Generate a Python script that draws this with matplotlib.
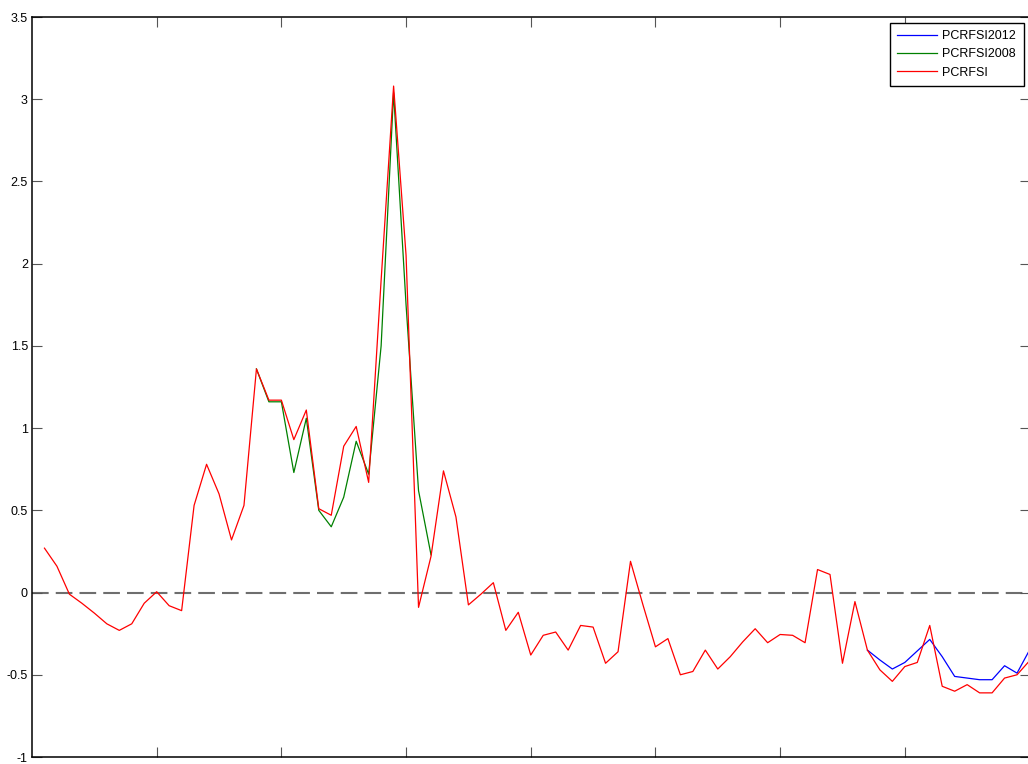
import matplotlib as mpl
import matplotlib.pyplot as plt
import numpy as np

# PCRFSI, full series (quarter index 1..80)
pcrfsi = [0.27, 0.16, -0.01, -0.065, -0.125, -0.19, -0.23, -0.19, -0.065, 0.005,
          -0.08, -0.11, 0.53, 0.78, 0.60, 0.32, 0.53, 1.36, 1.17, 1.17,
          0.93, 1.11, 0.51, 0.47, 0.89, 1.01, 0.67, 1.9, 3.08, 2.05,
          -0.09, 0.22, 0.74, 0.46, -0.075, -0.01, 0.06, -0.23, -0.12, -0.38,
          -0.26, -0.24, -0.35, -0.20, -0.21, -0.43, -0.36, 0.19, -0.075, -0.33,
          -0.28, -0.50, -0.48, -0.35, -0.465, -0.39, -0.30, -0.22, -0.305, -0.255,
          -0.26, -0.305, 0.14, 0.11, -0.43, -0.055, -0.35, -0.47, -0.54, -0.45,
          -0.425, -0.20, -0.57, -0.60, -0.56, -0.61, -0.61, -0.52, -0.50, -0.415]
t_full = np.arange(1, len(pcrfsi) + 1)

# PCRFSI2008, where it departs from the full series
t_2008 = np.arange(18, 33)
pcrfsi2008 = [1.36, 1.16, 1.16, 0.73, 1.06, 0.50, 0.40, 0.58, 0.92, 0.72,
              1.5, 3.04, 1.75, 0.62, 0.23]

# PCRFSI2012, where it departs from the full series
t_2012 = np.arange(67, 81)
pcrfsi2012 = [-0.35, -0.41, -0.465, -0.425, -0.355, -0.285, -0.39, -0.51, -0.52, -0.53,
              -0.53, -0.445, -0.49, -0.35]

yticks = np.arange(-1, 3.51, 0.5)
ytick_labels = ['-1', '-0.5', '0', '0.5', '1', '1.5', '2', '2.5', '3', '3.5']
xticks = [10, 20, 30, 40, 50, 60, 70]

mpl.rcParams['font.family'] = ['Liberation Sans', 'DejaVu Sans']

W, H = 1028, 764
fig = plt.figure(figsize=(W / 100, H / 100), dpi=100)
ax = fig.add_axes([32 / W, 7 / H, (1029.5 - 32) / W, (757 - 17) / H])

ax.plot(t_2012, pcrfsi2012, color=(0, 0, 1), linewidth=0.9, label='PCRFSI2012')
ax.plot(t_2008, pcrfsi2008, color=(0, 0.5, 0), linewidth=0.9, label='PCRFSI2008')
ax.plot(t_full, pcrfsi, color=(1, 0, 0), linewidth=0.9, label='PCRFSI')
ax.axhline(0, color='#6e6e6e', linewidth=1.5, dashes=[8, 3.4], zorder=1)

ax.set_xlim(0, 80)
ax.set_ylim(-1, 3.5)
ax.set_xticks(xticks)
ax.set_xticklabels([])
ax.set_yticks(yticks)
ax.set_yticklabels(ytick_labels)
ax.tick_params(direction='in', length=7, width=0.8, color='#555555',
               top=True, right=True, labelsize=9, pad=3)
for s in ax.spines.values():
    s.set_linewidth(1.1)
    s.set_color('black')

leg = ax.legend(loc='upper right', bbox_to_anchor=(1023.5 / W, 1 - 22.5 / H),
                bbox_transform=fig.transFigure, borderaxespad=0, fancybox=False,
                framealpha=1, edgecolor='black', fontsize=9, handlelength=3.2,
                handletextpad=0.4, labelspacing=0.5, borderpad=0.6)
leg.get_frame().set_linewidth(1.0)

fig.savefig('out.png', dpi=100)
